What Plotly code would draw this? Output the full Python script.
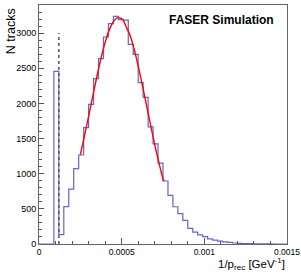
import plotly.graph_objects as go

# ---- data ----
bin_edges = [i * 0.00003 for i in range(51)]
counts = [0, 0, 0, 2457, 134, 532, 782, 1072, 1266, 1656,
          1987, 2353, 2637, 2945, 3135, 3239, 3192, 3185, 2840, 2698,
          2296, 2085, 1665, 1425, 1150, 896, 693, 530, 432, 335,
          222, 170, 130, 105, 72, 55, 42, 30, 22, 14,
          10, 6, 4, 3, 2, 1, 1, 0, 0, 0]
fit_x = [0.00025, 0.000275, 0.00030, 0.000325, 0.00035, 0.000375, 0.00040, 0.000425,
         0.00045, 0.000465, 0.00048, 0.000495, 0.00051, 0.000525, 0.00055, 0.000575,
         0.00060, 0.000625, 0.00065, 0.000675, 0.00070, 0.000725, 0.00075, 0.000756]
fit_y = [1269, 1537, 1815, 2101, 2383, 2641, 2866, 3046,
         3163, 3204, 3220, 3212, 3180, 3102, 2972, 2775,
         2531, 2262, 1976, 1692, 1415, 1160, 929, 896]
cut_x = [0.00012, 0.00012]
cut_y = [0, 3000]
x_tickvals = [0, 0.0005, 0.001, 0.0015]
x_ticktext = ["0", "0.0005", "0.001", "0.0015"]
y_tickvals = [0, 500, 1000, 1500, 2000, 2500, 3000]

FONT = "Liberation Sans, Arial, Helvetica, sans-serif"

hx = list(bin_edges)
hy = list(counts) + [counts[-1]]

fig = go.Figure()
fig.add_trace(go.Scatter(x=hx, y=hy, mode="lines", line_shape="hv",
                         line=dict(color="rgb(100,100,205)", width=1.2),
                         showlegend=False, hoverinfo="skip", cliponaxis=False))
fig.add_trace(go.Scatter(x=cut_x, y=cut_y, mode="lines",
                         line=dict(color="#555555", width=1.5, dash="dot"),
                         showlegend=False, hoverinfo="skip"))
fig.add_trace(go.Scatter(x=fit_x, y=fit_y, mode="lines", line_shape="spline",
                         line=dict(color="#ff0000", width=1.4),
                         showlegend=False, hoverinfo="skip"))

fig.update_layout(
    width=301, height=274,
    margin=dict(l=39, r=14, t=5, b=30, autoexpand=False),
    paper_bgcolor="white", plot_bgcolor="white",
    font=dict(family=FONT, color="black"),
    xaxis=dict(range=[0, 0.0015], tickvals=x_tickvals, ticktext=x_ticktext,
               automargin=False,
               ticks="inside", ticklen=6, tickcolor="#555", tickwidth=1,
               minor=dict(ticks="inside", dtick=0.0001, tick0=0, ticklen=3, tickcolor="#555"),
               showline=True, linecolor="#666", linewidth=1, mirror=True,
               showgrid=False, zeroline=False,
               tickfont=dict(size=8.5, family=FONT)),
    yaxis=dict(range=[0, 3400], tickvals=y_tickvals,
               automargin=False,
               ticks="inside", ticklen=5, tickcolor="#555", tickwidth=1,
               minor=dict(ticks="inside", dtick=100, tick0=0, ticklen=3, tickcolor="#555"),
               showline=True, linecolor="#666", linewidth=1, mirror=True,
               showgrid=False, zeroline=False,
               tickfont=dict(size=9, family=FONT)),
    annotations=[
        dict(text="<b>FASER Simulation</b>", xref="paper", yref="paper",
             x=0.955, y=0.975, xanchor="right", yanchor="top", showarrow=False,
             font=dict(size=12, family=FONT, color="black")),
        dict(text="N tracks", xref="paper", yref="paper", textangle=-90,
             x=-0.113, y=0.995, xanchor="center", yanchor="top", showarrow=False,
             font=dict(size=12.5, family=FONT, color="black")),
        dict(text="1/p<sub>rec</sub> [GeV<sup>-1</sup>]", xref="paper", yref="paper",
             x=1.0, y=-0.042, xanchor="right", yanchor="top", showarrow=False,
             font=dict(size=11.5, family=FONT, color="black")),
    ],
)

fig.write_html("out.html", config={"displayModeBar": False},
               post_script="document.body.style.margin='0';document.body.style.overflow='hidden';")
